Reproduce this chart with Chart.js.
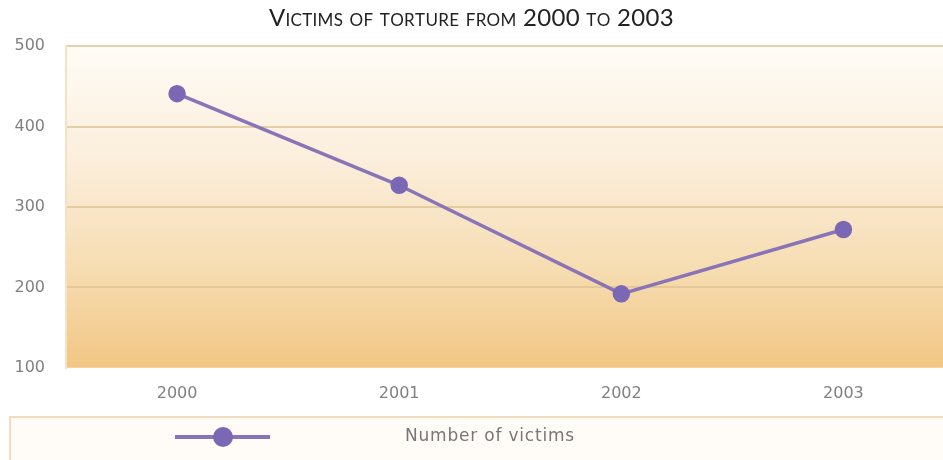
<!DOCTYPE html>
<html>
<head>
<meta charset="utf-8">
<script src="https://cdn.jsdelivr.net/npm/chart.js@4.4.1/dist/chart.umd.min.js"></script>
<style>
    html, body { margin: 0; padding: 0; background: #fff; overflow: hidden; }
    #wrap { position: relative; width: 965px; height: 460px; }
</style>
</head>
<body>
<div id="wrap"><canvas id="tortureChart"></canvas></div>
<script>
// victims per year
const years = ['2000', '2001', '2002', '2003'];
const victims = [441, 327, 192, 272];
const yTicks = [100, 200, 300, 400, 500];
const seriesLabel = 'Number of victims';
const chartTitle = 'Victims of torture from 2000 to 2003';

const lineColor = '#8a74b8';
const pointColor = '#7b68b5';
const titleFont = 'Lato, sans-serif';
const labelFont = '"DejaVu Sans", sans-serif';

// warm gradient behind the plot area
const plotBackground = {
    id: 'plotBackground',
    beforeDraw(chart) {
        const { ctx, chartArea: a } = chart;
        const g = ctx.createLinearGradient(0, a.top, 0, a.bottom);
        g.addColorStop(0, '#fffcf6');
        g.addColorStop(0.35, '#fbeedc');
        g.addColorStop(0.7, '#f6dcb0');
        g.addColorStop(1, '#f2c684');
        ctx.save();
        ctx.fillStyle = g;
        ctx.fillRect(a.left, a.top, a.right - a.left, a.bottom - a.top);
        ctx.restore();
    }
};

// title drawn in small caps (chart.js title keeps the space, stays invisible)
const smallCapsTitle = {
    id: 'smallCapsTitle',
    afterDraw(chart) {
        const ctx = chart.ctx;
        const text = chart.options.plugins.title.text;
        const big = '24px ' + titleFont;
        const small = '17px ' + titleFont;
        const parts = [];
        for (const ch of text) {
            const isSmall = ch !== ch.toUpperCase();
            parts.push({ t: ch.toUpperCase(), font: isSmall ? small : big });
        }
        ctx.save();
        let total = 0;
        parts.forEach(p => { ctx.font = p.font; p.w = ctx.measureText(p.t).width; total += p.w; });
        ctx.letterSpacing = '0.3px';
        let x = 466 - total / 2;
        ctx.fillStyle = '#222';
        ctx.textBaseline = 'alphabetic';
        ctx.textAlign = 'left';
        parts.forEach(p => { ctx.font = p.font; ctx.fillText(p.t, x, 26); x += p.w + 0.3; });
        ctx.restore();
    }
};

// legend strip under the axis
const legendStrip = {
    id: 'legendStrip',
    afterDraw(chart) {
        const ctx = chart.ctx;
        const ds = chart.data.datasets[0];
        const y = 437;
        ctx.save();
        ctx.fillStyle = '#fffcf8';
        ctx.strokeStyle = '#f1dcbd';
        ctx.lineWidth = 2;
        ctx.fillRect(10, 417, 960, 60);
        ctx.strokeRect(10, 417, 960, 60);

        ctx.strokeStyle = ds.borderColor;
        ctx.lineWidth = 4;
        ctx.beginPath();
        ctx.moveTo(175, y);
        ctx.lineTo(270, y);
        ctx.stroke();
        ctx.fillStyle = ds.pointBackgroundColor;
        ctx.beginPath();
        ctx.arc(223, y, 10, 0, Math.PI * 2);
        ctx.fill();

        ctx.fillStyle = '#777';
        ctx.font = '17px ' + labelFont;
        ctx.letterSpacing = '0.8px';
        ctx.textBaseline = 'middle';
        ctx.textAlign = 'left';
        ctx.fillText(ds.label, 405, y);
        ctx.restore();
    }
};

const ctx = document.getElementById('tortureChart').getContext('2d');
const tortureChart = new Chart(ctx, {
    type: 'line',
    data: {
        labels: years,
        datasets: [{
            label: seriesLabel,
            data: victims,
            borderColor: lineColor,
            borderWidth: 3.5,
            pointBackgroundColor: pointColor,
            pointBorderColor: pointColor,
            pointRadius: 7,
            tension: 0
        }]
    },
    options: {
        responsive: true,
        maintainAspectRatio: false,
        animation: false,
        layout: { padding: { left: 10, right: 4, top: 4, bottom: 49 } },
        plugins: {
            legend: { display: false },
            tooltip: { enabled: false },
            title: {
                display: true,
                text: chartTitle,
                color: 'rgba(0,0,0,0)',
                font: { family: titleFont, size: 21, weight: 'normal' },
                padding: { top: 0, bottom: 17 }
            }
        },
        scales: {
            x: {
                offset: true,
                grid: { display: false },
                border: { display: false },
                ticks: {
                    color: '#808080',
                    padding: 8,
                    font: { family: labelFont, size: 16 }
                }
            },
            y: {
                min: 100,
                max: 500,
                afterBuildTicks(axis) {
                    axis.ticks = yTicks.map(v => ({ value: v }));
                },
                afterFit(axis) {
                    axis.width = 56;
                },
                grid: {
                    drawTicks: false,
                    lineWidth: 2,
                    color: c => c.tick && c.tick.value === 100 ? 'rgba(0,0,0,0)' : 'rgba(222,195,145,0.75)'
                },
                border: { display: true, color: '#f3e2c6', width: 2 },
                ticks: {
                    color: '#808080',
                    padding: 21,
                    font: { family: labelFont, size: 16 }
                }
            }
        }
    },
    plugins: [plotBackground, smallCapsTitle, legendStrip]
});
</script>
</body>
</html>
